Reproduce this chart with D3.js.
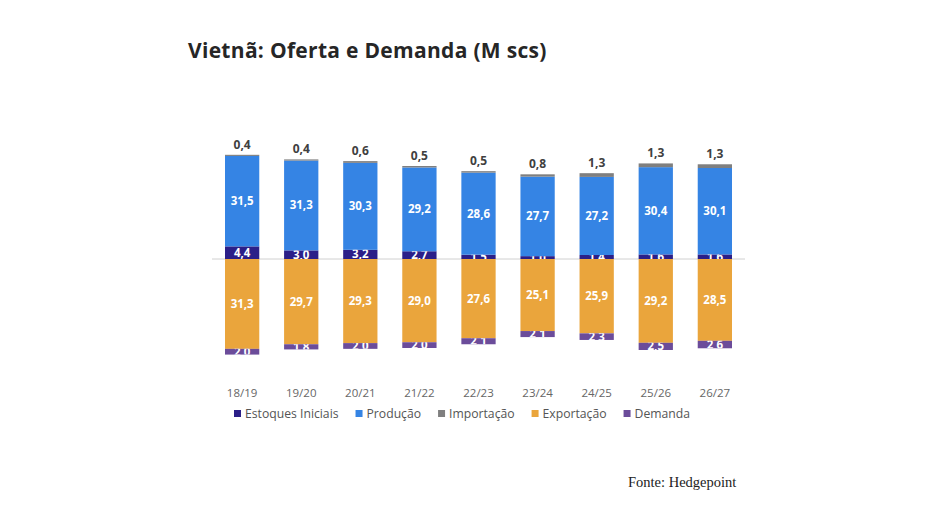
<!DOCTYPE html>
<html>
<head>
<meta charset="utf-8">
<script src="https://cdn.jsdelivr.net/npm/d3@7"></script>
<style>
  body { margin: 0; background: #fff; }
  svg { display: block; font-family: "Open Sans", Lato, sans-serif; }
</style>
</head>
<body>
<svg id="chart" width="940" height="530"></svg>
<script>
// safras e valores (M scs)
const seasons = ["18/19", "19/20", "20/21", "21/22", "22/23", "23/24", "24/25", "25/26", "26/27"];
const estoques = [4.4, 3.0, 3.2, 2.7, 1.5, 1.0, 1.4, 1.6, 1.6];
const producao = [31.5, 31.3, 30.3, 29.2, 28.6, 27.7, 27.2, 30.4, 30.1];
const importacao = [0.4, 0.4, 0.6, 0.5, 0.5, 0.8, 1.3, 1.3, 1.3];
const exportacao = [31.3, 29.7, 29.3, 29.0, 27.6, 25.1, 25.9, 29.2, 28.5];
const demanda = [2.0, 1.8, 2.0, 2.0, 2.1, 2.1, 2.3, 2.5, 2.6];

const seriesNames = ["Estoques Iniciais", "Produção", "Importação", "Exportação", "Demanda"];
const colors = ["#2b1f88", "#3584e4", "#7f7f7f", "#eaa53c", "#6b4c9a"];

const svg = d3.select("#chart");

// título
svg.append("text")
  .attr("x", 188).attr("y", 58)
  .attr("font-size", 21).attr("font-weight", 700)
  .attr("letter-spacing", 0.3)
  .attr("fill", "#262626")
  .text("Vietnã: Oferta e Demanda (M scs)");

const x = d3.scaleBand().domain(seasons).range([212, 745]).paddingInner(0.42).paddingOuter(0.22);
const y = d3.scaleLinear().domain([-34, 37]).range([356.6, 152.8]);

// montar os segmentos empilhados (positivo para cima, negativo para baixo)
const segs = [];
seasons.forEach((s, i) => {
  let top = 0;
  [estoques, producao, importacao].forEach((arr, k) => {
    segs.push({ s, k, v: arr[i], y0: top, y1: top + arr[i] });
    top += arr[i];
  });
  let bot = 0;
  [exportacao, demanda].forEach((arr, k) => {
    segs.push({ s, k: k + 3, v: arr[i], y0: bot, y1: bot - arr[i] });
    bot -= arr[i];
  });
});

const defs = svg.append("defs");
segs.forEach((d, i) => {
  d.id = "clip" + i;
  defs.append("clipPath").attr("id", d.id)
    .append("rect")
    .attr("x", x(d.s))
    .attr("y", y(Math.max(d.y0, d.y1)))
    .attr("width", x.bandwidth())
    .attr("height", Math.abs(y(d.y0) - y(d.y1)));
});

// linha do zero
svg.append("line")
  .attr("x1", 212).attr("x2", 745)
  .attr("y1", y(0)).attr("y2", y(0))
  .attr("stroke", "#d0d0d0").attr("stroke-width", 1);

svg.append("g").selectAll("rect")
  .data(segs)
  .join("rect")
  .attr("x", d => x(d.s))
  .attr("y", d => y(Math.max(d.y0, d.y1)))
  .attr("width", x.bandwidth())
  .attr("height", d => Math.abs(y(d.y0) - y(d.y1)))
  .attr("fill", d => colors[d.k]);

const fmt = v => d3.format(".1f")(v).replace(".", ",");

// rótulos internos (brancos, cortados pelo segmento)
svg.append("g").selectAll("text")
  .data(segs.filter(d => d.k !== 2))
  .join("text")
  .attr("clip-path", d => `url(#${d.id})`)
  .attr("x", d => x(d.s) + x.bandwidth() / 2)
  .attr("y", d => (y(d.y0) + y(d.y1)) / 2 + 4)
  .attr("text-anchor", "middle")
  .attr("font-size", 11.5).attr("font-weight", 700)
  .attr("fill", "#fff")
  .text(d => fmt(d.v));

// rótulos da importação, acima da barra
svg.append("g").selectAll("text")
  .data(segs.filter(d => d.k === 2))
  .join("text")
  .attr("x", d => x(d.s) + x.bandwidth() / 2)
  .attr("y", d => y(d.y1) - 6)
  .attr("text-anchor", "middle")
  .attr("font-size", 12).attr("font-weight", 700)
  .attr("fill", "#404040")
  .text(d => fmt(d.v));

// eixo x (só rótulos)
const xAxis = svg.append("g")
  .attr("transform", "translate(0,380)")
  .call(d3.axisBottom(x).tickSize(0).tickPadding(9));
xAxis.select(".domain").remove();
xAxis.selectAll("text")
  .attr("font-size", 11.5).attr("fill", "#666")
  .attr("font-family", "\"Open Sans\", Lato, sans-serif");

// legenda
const legend = svg.append("g").attr("transform", "translate(234,418)");
let lx = 0;
seriesNames.forEach((n, i) => {
  const g = legend.append("g").attr("transform", `translate(${lx},0)`);
  g.append("rect").attr("x", 0).attr("y", -8).attr("width", 7).attr("height", 7).attr("fill", colors[i]);
  const t = g.append("text").attr("x", 11).attr("y", 0)
    .attr("font-size", 12.2).attr("fill", "#555").text(n);
  lx += 11 + t.node().getComputedTextLength() + 17;
});

// fonte
svg.append("text")
  .attr("x", 628).attr("y", 487)
  .attr("font-family", "\"Liberation Serif\", \"Times New Roman\", serif")
  .attr("font-size", 14.5).attr("fill", "#222")
  .text("Fonte: Hedgepoint");
</script>
</body>
</html>
